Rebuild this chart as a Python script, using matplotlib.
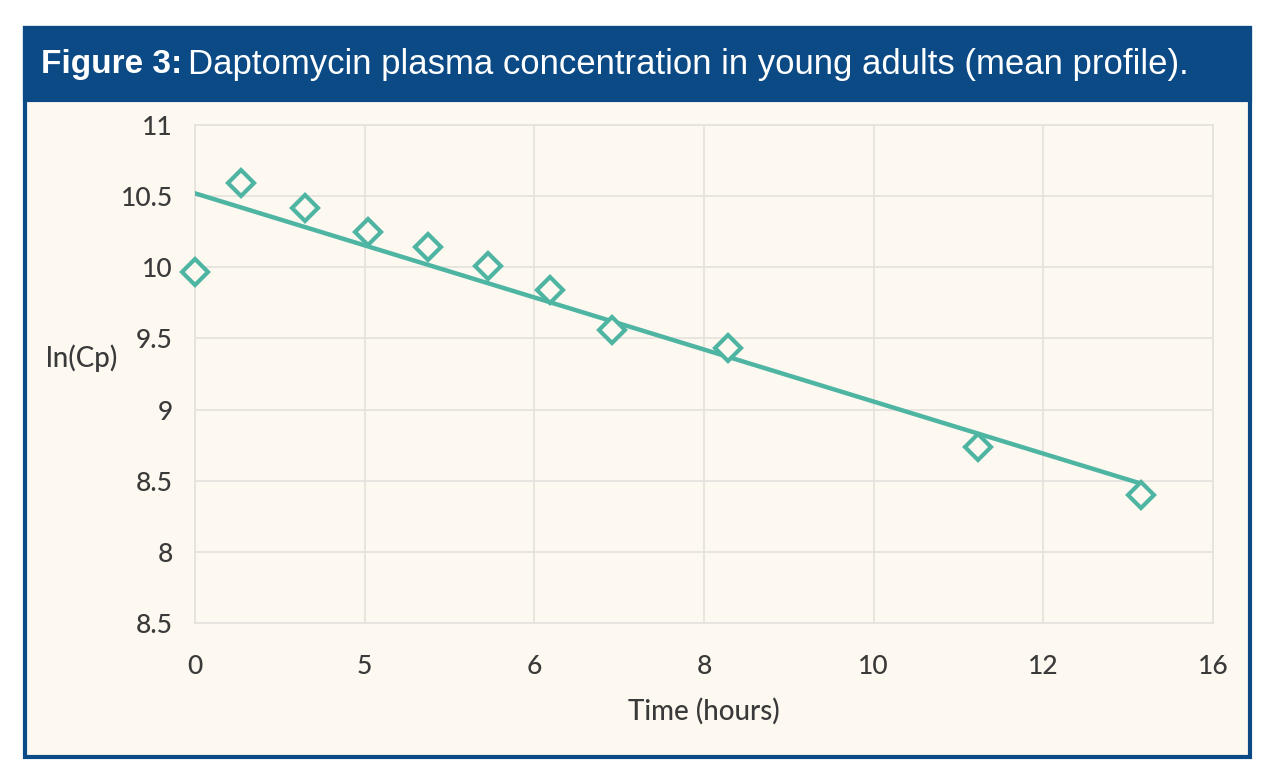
import numpy as np
import matplotlib
matplotlib.use('Agg')
import matplotlib.pyplot as plt
from matplotlib.patches import Rectangle

# values (x in axis units, y = ln(Cp))
time_pts = [0.0, 0.54, 1.30, 2.04, 2.75, 3.46, 4.19, 4.91, 6.28, 9.23, 11.15]
ln_cp = [9.97, 10.59, 10.42, 10.25, 10.14, 10.01, 9.84, 9.56, 9.43, 8.74, 8.40]

trend_x = [0.0, 11.15]
trend_y = [10.52, 8.48]

x_ticks = [0, 2, 4, 6, 8, 10, 12]
x_labels = ['0', '5', '6', '8', '10', '12', '16']
y_ticks = [7.5, 8, 8.5, 9, 9.5, 10, 10.5, 11]
y_labels = ['8.5', '8', '8.5', '9', '9.5', '10', '10.5', '11']

teal = '#4fb5a3'
navy = '#0b4a85'
cream = '#fdf9f1'
txt = '#3a3a3a'
lab_font = 'Lato'

fig = plt.figure(figsize=(12.8, 7.75), dpi=100)
fig.patch.set_facecolor('white')

# panel + header
fig.patches.append(Rectangle((0.0195, 0.0232), 0.9571, 0.9407, transform=fig.transFigure,
                             facecolor=cream, edgecolor=navy, linewidth=3, zorder=-5))
fig.patches.append(Rectangle((0.0195, 0.871), 0.9571, 0.0929, transform=fig.transFigure,
                             facecolor=navy, edgecolor=navy, linewidth=3, zorder=-4))

t1 = fig.text(0.032, 0.917, 'Figure 3:', color='white', fontsize=24, fontweight='bold',
              family='Liberation Sans', va='center', ha='left')
fig.canvas.draw()
bb = t1.get_window_extent(renderer=fig.canvas.get_renderer())
x2 = (bb.x1 + 6) / fig.bbox.width
fig.text(x2, 0.917, 'Daptomycin plasma concentration in young adults (mean profile).',
         color='white', fontsize=25, family='Liberation Sans', va='center', ha='left')

ax = fig.add_axes([0.1523, 0.1961, 0.7954, 0.6426])
ax.set_facecolor(cream)

ax.plot(trend_x, trend_y, color=teal, linewidth=3.2, zorder=3)
ax.plot(time_pts, ln_cp, linestyle='none', marker='D', markersize=13,
        markerfacecolor=cream, markeredgecolor=teal, markeredgewidth=3, zorder=4,
        clip_on=False)

ax.set_xlim(0, 12)
ax.set_ylim(7.5, 11)
ax.set_xticks(x_ticks)
ax.set_xticklabels(x_labels)
ax.set_yticks(y_ticks)
ax.set_yticklabels(y_labels)
ax.grid(True, color='#e4e2de', linewidth=1.2)
ax.set_axisbelow(True)
for s in ax.spines.values():
    s.set_color('#e4e2de')
    s.set_linewidth(1.2)
ax.tick_params(length=0, labelsize=19, labelcolor=txt)
ax.tick_params(axis='x', pad=22)
ax.tick_params(axis='y', pad=16)
for lab in ax.get_xticklabels() + ax.get_yticklabels():
    lab.set_family(lab_font)
    lab.set_fontweight('medium')

ax.set_xlabel('Time (hours)', fontsize=20, color=txt, family=lab_font,
              fontweight='medium', labelpad=14)
fig.text(0.036, 0.538, 'ln(Cp)', fontsize=20, color=txt, family=lab_font,
         fontweight='medium', ha='left', va='center')

fig.savefig('out.png', dpi=100, facecolor=fig.get_facecolor())
